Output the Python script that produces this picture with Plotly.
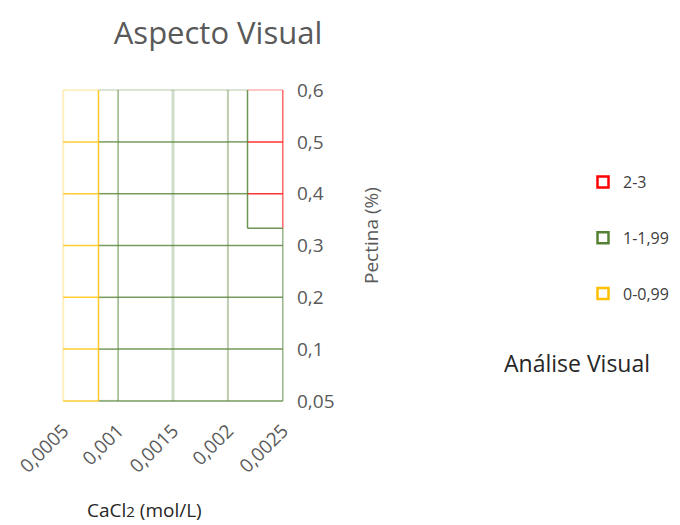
import plotly.graph_objects as go

# CaCl2 concentration (mol/L): columns of the response grid
cacl2 = [0.0005, 0.001, 0.0015, 0.002, 0.0025]
# Pectin content (%): rows of the response grid
pectina = [0.05, 0.1, 0.2, 0.3, 0.4, 0.5, 0.6]
# Visual-aspect score, one row per pectin level, one column per CaCl2 level
score = [
    [0.1, 1.5, 1.5, 1.5, 1.55],  # 0.05
    [0.1, 1.5, 1.5, 1.5, 1.55],  # 0.1
    [0.1, 1.5, 1.5, 1.5, 1.55],  # 0.2
    [0.1, 1.5, 1.5, 1.5, 1.55],  # 0.3
    [0.1, 1.5, 1.5, 1.5, 2.9],   # 0.4
    [0.1, 1.5, 1.5, 1.5, 2.9],   # 0.5
    [0.1, 1.5, 1.5, 1.5, 2.9],   # 0.6
]
# Score bands (lower edge of each band after the first)
band_levels = [1, 2]
band_labels = ["0-0,99", "1-1,99", "2-3"]

# ---- styling -------------------------------------------------------------
BAND_RGB = [(255, 192, 0), (84, 130, 53), (255, 0, 0)]
TEXT = "#595959"
FONT = "Open Sans"
ROW_ALPHA = {0: 0.6, len(pectina) - 1: 0.22}
ROW_WIDTH = {0: 2, len(pectina) - 1: 2}
COL_ALPHA = [0.25, 0.6, 0.28, 0.4, 0.6]
COL_WIDTH = [2, 1.5, 3, 2, 1.5]

# plot-area pixel box (left, right, top, bottom) used to place free text
PX_L, PX_R, PX_T, PX_B = 61, 285, 88, 403


def to_paper(px, py):
    return (px - PX_L) / (PX_R - PX_L), (PX_B - py) / (PX_B - PX_T)


def rgba(band, alpha):
    r, g, b = BAND_RGB[band]
    return f"rgba({r},{g},{b},{alpha})"


def band_of(z):
    b = 0
    for lv in band_levels:
        if z >= lv:
            b += 1
    return b


def split_edge(z0, z1):
    """Split an edge (t from 0 to 1) into pieces that fall in a single band."""
    ts = [0.0, 1.0]
    for lv in band_levels:
        if (z0 - lv) * (z1 - lv) < 0:
            ts.append((lv - z0) / (z1 - z0))
    ts.sort()
    out = []
    for a, b in zip(ts[:-1], ts[1:]):
        zm = z0 + (z1 - z0) * (a + b) / 2
        out.append((a, b, band_of(zm)))
    return out


segments = {}  # (band, alpha, width) -> list of coordinate pairs


def add(key, p0, p1):
    segments.setdefault(key, []).append((p0, p1))


nx, ny = len(cacl2), len(pectina)

# Wireframe lines along each pectin row
for r in range(ny):
    a = ROW_ALPHA.get(r, 0.8)
    w = ROW_WIDTH.get(r, 1.5)
    for c in range(nx - 1):
        for t0, t1, b in split_edge(score[r][c], score[r][c + 1]):
            add((b, a, w), (c + t0, r), (c + t1, r))

# Wireframe lines along each CaCl2 column
for c in range(nx):
    for r in range(ny - 1):
        for t0, t1, b in split_edge(score[r][c], score[r + 1][c]):
            add((b, COL_ALPHA[c], COL_WIDTH[c]), (c, r + t0), (c, r + t1))

# Band boundaries, traced cell by cell with axis-aligned steps
for li, lv in enumerate(band_levels):
    for c in range(nx - 1):
        for r in range(ny - 1):
            pts = []
            edges = [
                ("h", score[r][c], score[r][c + 1], lambda t: (c + t, r)),
                ("h", score[r + 1][c], score[r + 1][c + 1], lambda t: (c + t, r + 1)),
                ("v", score[r][c], score[r + 1][c], lambda t: (c, r + t)),
                ("v", score[r][c + 1], score[r + 1][c + 1], lambda t: (c + 1, r + t)),
            ]
            for kind, z0, z1, pos in edges:
                if (z0 - lv) * (z1 - lv) < 0:
                    pts.append((kind, pos((lv - z0) / (z1 - z0))))
            if len(pts) != 2:
                continue
            (k0, p0), (k1, p1) = pts
            key = (li, 0.85, 1.5)
            if k0 != k1:
                h, v = (p0, p1) if k0 == "h" else (p1, p0)
                corner = (h[0], v[1])
                add(key, h, corner)
                add(key, corner, v)
            else:
                add(key, p0, p1)

fig = go.Figure()

for (b, a, w), segs in segments.items():
    xs, ys = [], []
    for (x0, y0), (x1, y1) in segs:
        xs += [x0, x1, None]
        ys += [y0, y1, None]
    fig.add_trace(go.Scatter(
        x=xs, y=ys, mode="lines",
        line=dict(color=rgba(b, a), width=w),
        hoverinfo="skip", showlegend=False,
    ))

# Legend entries, highest band first
for b in reversed(range(len(band_labels))):
    fig.add_trace(go.Scatter(
        x=[None], y=[None], mode="markers", name=band_labels[b],
        legendgroup=band_labels[b],
        marker=dict(symbol="square-open", size=11, color=rgba(b, 1),
                    line=dict(width=2.5, color=rgba(b, 1))),
    ))


def fmt(v):
    return f"{v:g}".replace(".", ",")


xt_x, xt_y = to_paper(144, 510)
yt_x, yt_y = to_paper(371, 236)
lg_x, lg_y = to_paper(577, 363)

fig.update_layout(
    width=680, height=525,
    margin=dict(l=PX_L, r=680 - PX_R, t=PX_T, b=525 - PX_B),
    paper_bgcolor="white", plot_bgcolor="white",
    font=dict(family=FONT, color=TEXT, size=15),
    title=dict(text="Aspecto Visual", x=218 / 680, xref="container",
               xanchor="center", y=1 - 33 / 525, yref="container",
               yanchor="middle", font=dict(size=31, color=TEXT)),
    xaxis=dict(range=[-0.04, nx - 1 + 0.04], showgrid=False, zeroline=False,
               showline=False, tickmode="array", tickvals=list(range(nx)),
               ticktext=[fmt(v) for v in cacl2], tickangle=-45, ticks="",
               ticklabelstandoff=12,
               tickfont=dict(size=19, color=TEXT)),
    yaxis=dict(range=[-0.04, ny - 1 + 0.04], side="right", showgrid=False,
               zeroline=False, showline=False, tickmode="array",
               tickvals=list(range(ny)), ticktext=[fmt(v) for v in pectina],
               ticks="", ticklabelstandoff=11,
               tickfont=dict(size=19, color=TEXT)),
    legend=dict(x=583 / 680, xref="container", xanchor="left",
                y=1 - 165 / 525, yref="container", yanchor="top",
                tracegroupgap=32, font=dict(size=16, color="#404040"),
                bgcolor="rgba(0,0,0,0)"),
    showlegend=True,
    annotations=[
        dict(text="CaCl<span style=\"font-size:15px\">2</span> (mol/L)",
             x=xt_x, y=xt_y, xref="paper", yref="paper",
             showarrow=False, font=dict(size=19, color="#262626"),
             xanchor="center", yanchor="middle"),
        dict(text="Pectina (%)", x=yt_x, y=yt_y, xref="paper", yref="paper",
             textangle=-90, showarrow=False,
             font=dict(size=19, color=TEXT),
             xanchor="center", yanchor="middle"),
        dict(text="Análise Visual", x=lg_x, y=lg_y,
             xref="paper", yref="paper", showarrow=False,
             font=dict(size=23, color="#262626"),
             xanchor="center", yanchor="middle"),
    ],
)

fig.write_html("out.html")
